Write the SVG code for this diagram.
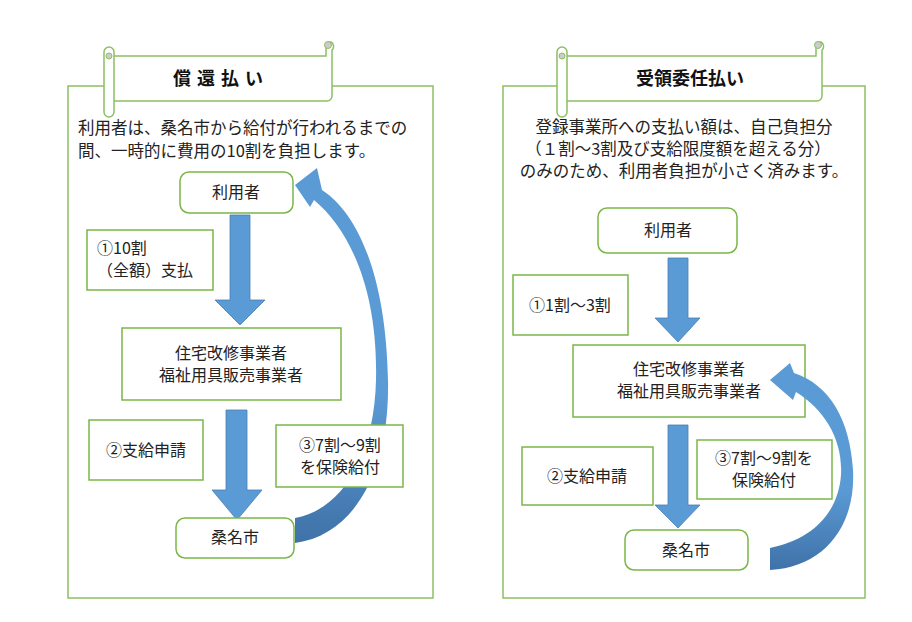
<svg xmlns="http://www.w3.org/2000/svg" width="912" height="622" viewBox="0 0 912 622">
<style>
.p{fill:#fff;stroke:#8cc063;stroke-width:1.5}
.b{fill:#fff;stroke:#7ab648;stroke-width:1.5}
.t{font-family:"Noto Sans CJK JP","Noto Sans CJK SC",sans-serif;font-size:16px;fill:#222;text-anchor:middle}
.i{font-family:"Noto Sans CJK JP","Noto Sans CJK SC",sans-serif;font-size:16.5px;fill:#222}
.h{font-family:"Noto Sans CJK JP",sans-serif;font-size:18px;font-weight:bold;fill:#111;text-anchor:middle}
.a{fill:#5b9bd5;stroke:#4a7fb0;stroke-width:0.8}
</style>
<defs>
<linearGradient id="g" x1="0" y1="0" x2="0" y2="1"><stop offset="0" stop-color="#5b9bd5"/><stop offset="0.6" stop-color="#5b9bd5"/><stop offset="1" stop-color="#3f72a8"/></linearGradient>
</defs>
<rect width="912" height="622" fill="#fff"/>
<g id="panel-left">
<rect class="p" x="68" y="86" width="365" height="512"/>
<g id="banner-left">
<path class="p" d="M110,56 H326 V46 A5,5 0 0 1 331,42 A5,5 0 0 1 332,50 V96 A5,5 0 0 1 327,101 H110 Z"/>
<path class="p" d="M104,52 A5,5 0 0 1 114,52 V112 A5,5 0 0 1 104,112 Z"/>
<circle cx="109" cy="56" r="3" fill="#ccc" stroke="#8cc063"/>
<circle cx="328" cy="45" r="3.5" fill="#ccc" stroke="#8cc063"/>
<text class="h" x="221" y="85" letter-spacing="6">償還払い</text>
</g>
<text class="i" x="78" y="134">利用者は、桑名市から給付が行われるまでの</text>
<text class="i" x="78" y="157">間、一時的に費用の10割を負担します。</text>
</g>
<g id="panel-right">
<rect class="p" x="503" y="86" width="362" height="512"/>
<g id="banner-right">
<path class="p" d="M563,56 H816 V46 A5,5 0 0 1 821,42 A5,5 0 0 1 822,50 V96 A5,5 0 0 1 817,101 H563 Z"/>
<path class="p" d="M557,52 A5,5 0 0 1 567,52 V112 A5,5 0 0 1 557,112 Z"/>
<circle cx="562" cy="56" r="3" fill="#ccc" stroke="#8cc063"/>
<circle cx="818" cy="45" r="3.5" fill="#ccc" stroke="#8cc063"/>
<text class="h" x="690" y="85">受領委任払い</text>
</g>
<text class="i" x="684" y="133" text-anchor="middle" font-size="16">登録事業所への支払い額は、自己負担分</text>
<text class="i" x="678" y="155" text-anchor="middle" font-size="16">（１割～3割及び支給限度額を超える分）</text>
<text class="i" x="684" y="177" text-anchor="middle" font-size="16">のみのため、利用者負担が小さく済みます。</text>
</g>
<g id="m1"><rect class="b" x="598" y="208" width="139" height="45" rx="9"/><text class="t" x="668" y="236">利用者</text></g>
<g id="m2"><rect class="b" x="513" y="275" width="115" height="60"/><text class="t" x="570" y="311">①1割～3割</text></g>
<g id="m3"><rect class="b" x="573" y="345" width="232" height="72"/><text class="t" x="689" y="375">住宅改修事業者</text><text class="t" x="689" y="397">福祉用具販売事業者</text></g>
<g id="m4"><rect class="b" x="522" y="447" width="131" height="58"/><text class="t" x="587" y="482">②支給申請</text></g>
<g id="m5"><rect class="b" x="697" y="440" width="135" height="59"/><text class="t" x="764" y="464">③7割～9割を</text><text class="t" x="764" y="486">保険給付</text></g>
<g id="m6"><rect class="b" x="625" y="530" width="123" height="40" rx="9"/><text class="t" x="686" y="556">桑名市</text></g>
<g id="connectors">
<path class="a" d="M230,215 H250 V300 H265 L240,325 L215,300 H230 Z"/>
<path class="a" d="M226,410 H247 V490 H262 L237,520 L212,490 H226 Z"/>
<path class="a" d="M668,258 H688 V318 H700 L678,342 L655,318 H668 Z"/>
<path class="a" d="M668,425 H688 V505 H700 L678,528 L655,505 H668 Z"/>
<path fill="url(#g)" d="M317,168 L295,185 L310,207 L314,200 C350,230 378,290 376,380 C374,460 340,510 295,518 L295,543 C355,535 390,470 388,380 C386,280 360,215 322,190 Z"/>
<path fill="url(#g)" d="M790,363 L770,380 L793,400 L796,392 C825,410 843,440 841,475 C838,515 810,540 770,548 L770,570 C825,567 856,525 853,470 C850,420 830,385 794,373 Z"/>
</g>
<g id="n1"><rect class="b" x="180" y="172" width="113" height="41" rx="9"/><text class="t" x="236" y="198">利用者</text></g>
<g id="n2"><rect class="b" x="87" y="230" width="126" height="60"/><text class="t" x="97" y="254" style="text-anchor:start">①10割</text><text class="t" x="97" y="276" style="text-anchor:start">（全額）支払</text></g>
<g id="n3"><rect class="b" x="122" y="328" width="219" height="72"/><text class="t" x="231" y="359">住宅改修事業者</text><text class="t" x="231" y="381">福祉用具販売事業者</text></g>
<g id="n4"><rect class="b" x="89" y="420" width="114" height="60"/><text class="t" x="146" y="456">②支給申請</text></g>
<g id="n5"><rect class="b" x="276" y="425" width="127" height="62"/><text class="t" x="340" y="451">③7割～9割</text><text class="t" x="340" y="473">を保険給付</text></g>
<g id="n6"><rect class="b" x="176" y="518" width="118" height="40" rx="9"/><text class="t" x="235" y="543">桑名市</text></g>
</svg>
